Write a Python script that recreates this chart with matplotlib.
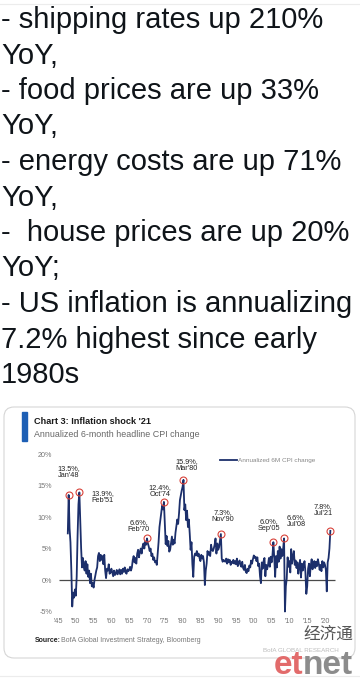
import numpy as np
import matplotlib
matplotlib.use('Agg')
import matplotlib.pyplot as plt
from matplotlib.patches import FancyBboxPatch, Rectangle

# tweet text above the chart
tweet_lines = [
    '- shipping rates up 210%',
    'YoY,',
    '- food prices are up 33%',
    'YoY,',
    '- energy costs are up 71%',
    'YoY,',
    '-  house prices are up 20%',
    'YoY;',
    '- US inflation is annualizing',
    '7.2% highest since early',
    '1980s',
]

# annualized 6M headline CPI change (%), quarterly, first point Q4 1947
cpi_1940s = [7.4, 13.5, 8.2, 6.0, 1.5, -4.2, -2.0, -2.8, -1.5]
cpi_1950s = [-2.5, 0.5, 7.0, 12.0, 13.9, 9.5, 5.0, 2.0, 3.5, 2.0,
             1.5, 3.0, 1.0, 2.5, 0.5, 1.5, -0.5, 1.0, -1.0, -0.5,
             -1.2, 0.0, 0.8, 1.5, 2.0, 3.8, 4.3, 3.0, 4.0, 3.2,
             3.8, 2.5, 4.0, 1.5, 0.3, 1.8, 1.5, 2.5, 1.0, 1.2]
cpi_1960s = [1.8, 1.2, 0.6, 1.5, 0.8, 1.0, 1.6, 0.9, 1.3, 1.7,
             0.9, 1.6, 1.0, 1.8, 1.3, 2.0, 1.2, 1.0, 1.7, 1.4,
             1.6, 2.1, 1.5, 2.0, 3.2, 3.8, 2.8, 3.5, 2.6, 4.2,
             4.8, 3.6, 4.5, 5.0, 4.2, 5.3, 5.8, 5.0, 6.1, 5.6]
cpi_1970s = [6.6, 5.8, 5.3, 4.6, 5.0, 3.8, 4.2, 3.2, 3.6, 2.8,
             3.0, 2.4, 4.2, 6.0, 8.4, 9.5, 10.5, 11.8, 11.2, 12.4,
             8.9, 5.7, 7.0, 5.4, 6.2, 4.5, 4.8, 5.8, 6.9, 5.6,
             6.4, 5.8, 7.5, 8.5, 9.6, 8.9, 10.6, 12.7, 13.5, 14.2]
cpi_1980s = [14.8, 15.9, 11.1, 12.0, 9.5, 11.0, 8.4, 9.6, 7.4, 4.8,
             6.0, 2.5, 0.5, 3.7, 4.2, 3.9, 4.6, 3.8, 4.2, 3.5,
             3.0, 4.0, 3.4, 3.8, 2.8, -0.8, 1.5, 2.6, 4.6, 4.0,
             4.4, 3.8, 5.6, 4.8, 4.6, 5.0, 5.6, 6.6, 4.2, 5.8]
cpi_1990s = [4.8, 5.2, 6.2, 7.3, 3.4, 2.9, 3.2, 3.0, 2.9, 3.4,
             2.6, 3.3, 2.8, 3.2, 2.4, 2.9, 2.7, 3.2, 2.6, 3.0,
             2.5, 3.4, 2.2, 2.7, 3.1, 2.4, 2.1, 2.9, 1.9, 1.6,
             2.4, 1.3, 1.1, 1.8, 1.4, 2.3, 2.0, 3.1, 2.6, 3.3]
cpi_2000s = [3.9, 3.5, 3.7, 3.0, 3.6, 2.2, 2.6, 0.6, -0.5, 2.8,
             1.8, 3.0, 3.5, 0.6, 2.4, 1.7, 2.4, 3.5, 2.1, 3.7,
             2.8, 4.0, 6.0, 3.5, 0.5, 3.8, 2.0, 4.6, 2.9, 5.3,
             3.4, 4.9, 3.8, 5.0, 6.6, -5.0, -1.0, 0.2, 3.6, 2.1]
cpi_2010s = [3.0, 1.2, 4.9, 2.6, 3.8, 4.6, 2.4, 3.1, 1.9, 2.8,
             1.0, 2.2, 3.2, 0.4, 2.6, 1.5, 2.4, 3.0, 1.2, -2.2,
             -1.0, 1.8, 2.6, 0.6, 2.3, 3.3, 1.7, 2.8, 3.0, 1.9,
             2.9, 2.2, 3.3, 2.6, 1.6, 2.4, 1.4, 3.0, 2.0, 2.8]
cpi_2020s = [2.4, 1.6, -1.8, 2.8, 3.5, 5.0, 7.8]

# highlighted peaks
peak_dates = [1948.0, 1951.0, 1970.0, 1974.75, 1980.25, 1990.75, 2005.5, 2008.5, 2021.5]
peak_labels = ["13.5%,\nJan'48", "13.9%,\nFeb'51", "6.6%,\nFeb'70", "12.4%,\nOct'74",
               "15.9%,\nMar'80", "7.3%,\nNov'90", "6.0%,\nSep'05", "6.6%,\nJul'08",
               "7.8%,\nJul'21"]
label_offsets = [(0, 23), (12, -5), (-8, 12), (-4, 11), (3, 15),
                 (2, 18), (-4, 17), (12, 17), (-7, 21)]
label_ha = ['center', 'left', 'center', 'center', 'center', 'center', 'center', 'center', 'center']

y_ticks = [-5, 0, 5, 10, 15, 20]
x_ticks = list(range(1945, 2021, 5))

cpi = np.array(cpi_1940s + cpi_1950s + cpi_1960s + cpi_1970s + cpi_1980s
               + cpi_1990s + cpi_2000s + cpi_2010s + cpi_2020s)
t = 1947.75 + 0.25 * np.arange(len(cpi))

plt.rcParams['font.family'] = ['Liberation Sans', 'DejaVu Sans']

fig = plt.figure(figsize=(3.6, 6.79), dpi=100)

# background axes in pixel units for the text and the card
bg = fig.add_axes([0, 0, 1, 1])
bg.set_xlim(0, 360)
bg.set_ylim(679, 0)
bg.axis('off')

bg.axhline(4, color='#ececec', lw=0.8)
bg.axhline(676, color='#ececec', lw=0.8)

for i, line in enumerate(tweet_lines):
    bg.text(1, 28 + i * 35.5, line, fontsize=21, color='#0f1419', va='baseline', ha='left')

card = FancyBboxPatch((4, 407), 351, 251, boxstyle='round,pad=0,rounding_size=10',
                      fc='white', ec='#d6d6d6', lw=0.8)
bg.add_patch(card)
bg.add_patch(Rectangle((22, 412), 5, 29, color='#1d5fb5'))

bg.text(34, 421, "Chart 3: Inflation shock '21", fontsize=6.6, fontweight='bold',
        color='#1a1a1a', va='center')
bg.text(34, 434.5, 'Annualized 6-month headline CPI change', fontsize=6.4,
        color='#666666', va='center')
bg.text(35, 640, 'Source:', fontsize=5, fontweight='bold', color='#222222', va='center')
bg.text(61, 640, 'BofA Global Investment Strategy, Bloomberg', fontsize=5,
        color='#777777', va='center')

# watermark
bg.text(263, 651, 'BofA GLOBAL RESEARCH', fontsize=4.5, color='#bbbbbb', va='center')
bg.text(328, 634, '经济通', family=['Noto Sans CJK SC', 'DejaVu Sans'], fontsize=12,
        color='#555555', ha='center', va='center')
bg.text(274, 674, 'et', fontsize=24, fontweight='bold', color='#e26b6b', va='baseline')
bg.text(303, 674, 'net', fontsize=24, fontweight='bold', color='#8c8c8c', va='baseline')

# the chart
ax = fig.add_axes([0.15122, 0.09381, 0.79111, 0.24683])
ax.patch.set_visible(False)
for s in ax.spines.values():
    s.set_visible(False)

ax.hlines(0, 1945.3, 2022.8, color='#4a4a4a', lw=0.9, zorder=2)
ax.plot(t, cpi, color='#1c2f6b', lw=1.3, label='Annualized 6M CPI change', zorder=3)

for d, lab, off, ha in zip(peak_dates, peak_labels, label_offsets, label_ha):
    v = cpi[np.argmin(np.abs(t - d))]
    ax.plot(d, v, 'o', ms=5, mfc='none', mec='#d8423a', mew=0.8, zorder=4)
    ax.annotate(lab, (d, v), xytext=off, textcoords='offset pixels', ha=ha, va='center',
                fontsize=5.3, linespacing=1.0, color='#222222')

ax.set_xlim(1944, 2024)
ax.set_ylim(-5.6, 21)
ax.set_xticks(x_ticks, ["'" + str(y)[2:] for y in x_ticks])
ax.set_yticks(y_ticks, [f'{v}%' for v in y_ticks])
ax.tick_params(length=0, labelsize=5.2, labelcolor='#777777', pad=1.7)

ax.legend(loc='upper left', bbox_to_anchor=(220, 458), bbox_transform=bg.transData,
          frameon=False, fontsize=4.6, handlelength=2.6, handletextpad=0.15,
          borderpad=0, borderaxespad=0, labelcolor='#888888')

fig.savefig('out.png', dpi=100)
